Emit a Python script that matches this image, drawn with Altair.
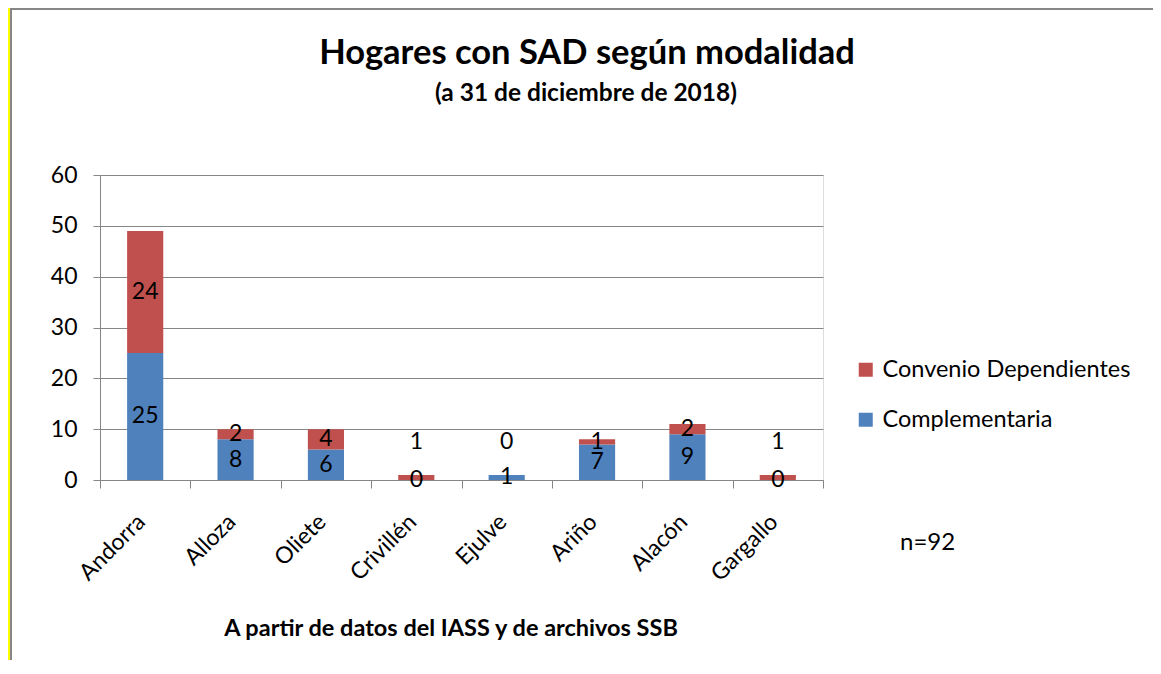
import altair as alt
import pandas as pd

categories = ["Andorra", "Alloza", "Oliete", "Crivillén", "Ejulve", "Ariño", "Alacón", "Gargallo"]
complementaria = [25, 8, 6, 0, 1, 7, 9, 0]
convenio = [24, 2, 4, 1, 0, 1, 2, 1]
series_names = ["Convenio Dependientes", "Complementaria"]
y_ticks = [0, 10, 20, 30, 40, 50, 60]

rows = []
for c, b, r in zip(categories, complementaria, convenio):
    rows.append({"cat": c, "serie": "Complementaria", "value": b, "ord": 0,
                 "mid": b / 2})
    rows.append({"cat": c, "serie": "Convenio Dependientes", "value": r, "ord": 1,
                 "mid": max(b + r / 2, 7.5)})
df = pd.DataFrame(rows)

FONT = "Lato"
GRAY = "#868686"
BLUE = "#4F81BD"
RED = "#C0504D"
FS = 23

x_enc = alt.X("cat:N", sort=categories,
              scale=alt.Scale(paddingInner=0, paddingOuter=0),
              axis=alt.Axis(title=None,
                            labelAngle=-45, labelAlign="right", labelBaseline="middle",
                            labelFontSize=FS, labelFont=FONT, labelColor="black",
                            labelPadding=30, labelOffset=-4,
                            tickBand="extent", tickSize=8,
                            tickColor=GRAY, domainColor=GRAY, grid=False))

bars = alt.Chart(df).mark_bar(width=alt.RelativeBandSize(0.4)).encode(
    x=x_enc,
    y=alt.Y("value:Q", stack="zero",
            scale=alt.Scale(domain=[0, 60], nice=False),
            axis=alt.Axis(title=None, values=y_ticks, labelFontSize=FS, labelFont=FONT,
                          labelColor="black", tickSize=7, tickColor=GRAY,
                          domainColor=GRAY, gridColor=GRAY, labelPadding=16)),
    color=alt.Color("serie:N",
                    scale=alt.Scale(domain=series_names, range=[RED, BLUE]),
                    legend=alt.Legend(title=None, orient="none", legendX=754, legendY=183,
                                      symbolType="square", symbolSize=196,
                                      symbolStrokeWidth=0, labelFontSize=23.5,
                                      labelFont=FONT, labelColor="black",
                                      labelLimit=400, rowPadding=25, labelOffset=5)),
    order=alt.Order("ord:Q"),
)

labels = alt.Chart(df).mark_text(fontSize=FS, font=FONT, color="black",
                                 baseline="middle", align="center").encode(
    x=alt.X("cat:N", sort=categories),
    y=alt.Y("mid:Q"),
    text=alt.Text("value:Q"),
)

one = alt.Data(values=[{}])
n_text = alt.Chart(one).mark_text(text="n=92", fontSize=24, font=FONT, color="black",
                                  align="left", baseline="middle").encode(
    x=alt.value(800), y=alt.value(368))
title = alt.Chart(one).mark_text(text="Hogares con SAD según modalidad", fontSize=34.5,
                                 font=FONT, fontWeight="bold", color="black",
                                 align="center", baseline="alphabetic").encode(
    x=alt.value(487), y=alt.value(-111))
subtitle = alt.Chart(one).mark_text(text="(a 31 de diciembre de 2018)", fontSize=24.5,
                                    font=FONT, fontWeight="bold", color="black",
                                    align="center", baseline="alphabetic").encode(
    x=alt.value(486), y=alt.value(-74))
caption = alt.Chart(one).mark_text(text="A partir de datos del IASS y de archivos SSB",
                                   fontSize=23.5, font=FONT, fontWeight="bold", color="black",
                                   align="center", baseline="alphabetic").encode(
    x=alt.value(351), y=alt.value(461))
yellow = alt.Chart(one).mark_rule(color="#FFFF00", strokeWidth=3).encode(
    x=alt.value(-91.5), y=alt.value(-167), y2=alt.value(500))
vline = alt.Chart(one).mark_rule(color=GRAY, strokeWidth=2).encode(
    x=alt.value(-89), y=alt.value(-167), y2=alt.value(500))
hline = alt.Chart(one).mark_rule(color=GRAY, strokeWidth=2).encode(
    x=alt.value(-90), x2=alt.value(1061), y=alt.value(-166))

chart = alt.layer(bars, labels, n_text, title, subtitle, caption,
                  yellow, vline, hline).properties(
    width=723, height=305,
    autosize=alt.AutoSizeParams(type="none"),
    padding={"left": 92, "top": 167, "right": 330, "bottom": 180},
).configure_view(stroke=None).configure(background="white")

chart.save("out.html", embed_options={"renderer": "svg", "actions": False})
